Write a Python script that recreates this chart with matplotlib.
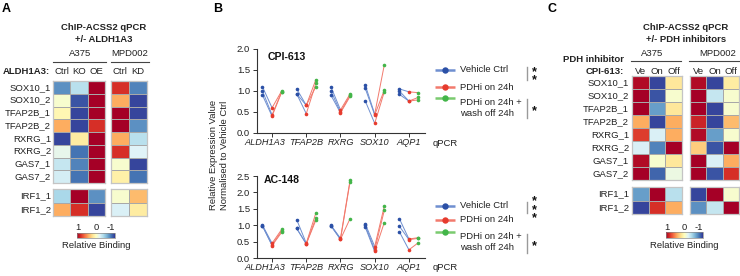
import numpy as np
import matplotlib
matplotlib.use('Agg')
import matplotlib.pyplot as plt
from matplotlib.colors import Normalize
import matplotlib.cm as cm
import matplotlib.transforms as mtransforms

plt.rcParams['font.family'] = ['Liberation Sans', 'DejaVu Sans']

# ---------------- data ----------------
rows_main = ['SOX10_1', 'SOX10_2', 'TFAP2B_1', 'TFAP2B_2', 'RXRG_1', 'RXRG_2', 'GAS7_1', 'GAS7_2']
rows_irf = ['IRF1_1', 'IRF1_2']

a_a375_cols = ['Ctrl', 'KO', 'OE']
a_mpd_cols = ['Ctrl', 'KD']
a_a375_main = [[-0.70, -0.35, 1.00], [-0.05, -0.90, 1.00], [0.05, -0.95, 1.00], [0.40, -0.95, 0.80],
               [-0.95, 0.12, 1.00], [-0.15, -0.80, 1.00], [-0.30, -0.75, 1.00], [-0.25, -0.80, 1.00]]
a_a375_irf = [[-0.40, 1.00, -0.70], [0.40, 0.80, -0.95]]
a_mpd_main = [[0.80, -0.75], [0.40, -0.95], [1.00, -0.95], [1.00, -0.70],
              [0.40, -0.35], [0.80, -0.20], [-0.05, -0.95], [0.10, -0.80]]
a_mpd_irf = [[-0.05, 0.35], [-0.22, 0.12]]

c_cols = ['Ve', 'On', 'Off']
c_a375_main = [[0.95, -0.95, 0.15], [1.00, -0.90, -0.05], [1.00, -0.65, 0.15], [0.40, -0.95, 0.40],
               [0.75, -0.22, 0.40], [-0.22, -0.75, 1.00], [0.95, -0.05, 0.15], [1.00, -0.85, -0.12]]
c_a375_irf = [[-0.65, 1.00, -0.35], [-0.95, 0.80, 0.40]]
c_mpd_main = [[0.95, -0.95, 0.12], [1.00, -0.30, -0.05], [1.00, -0.95, -0.05], [0.85, -0.95, 0.35],
              [0.95, -0.65, -0.05], [0.28, -0.90, 1.00], [1.00, -0.22, 0.40], [1.00, -0.90, 0.80]]
c_mpd_irf = [[-0.95, 1.00, -0.05], [-0.70, -0.30, 1.00]]

genes = ['ALDH1A3', 'TFAP2B', 'RXRG', 'SOX10', 'AQP1']
cpi_vehicle = [[1.10, 1.00, 0.90], [1.05, 0.93, 0.93], [1.10, 1.00, 0.90], [1.15, 1.07, 0.77], [1.05, 1.00, 0.92]]
cpi_on = [[0.60, 0.43, 0.40], [0.66, 0.46, 0.66], [0.55, 0.50, 0.48], [0.45, 0.43, 0.23], [0.98, 0.76, 0.76]]
cpi_off = [[1.00, 0.98, 0.97], [1.27, 1.18, 1.10], [0.93, 0.90, 0.87], [1.62, 1.02, 0.98], [0.96, 0.85, 0.79]]
ac_vehicle = [[1.00, 0.98, 0.97], [1.17, 0.90, 0.90], [1.00, 0.99, 0.98], [1.05, 1.00, 0.95], [1.20, 0.97, 0.80]]
ac_on = [[0.45, 0.40, 0.38], [0.45, 0.43, 0.43], [0.60, 0.57, 0.57], [0.35, 0.25, 0.20], [0.58, 0.56, 0.25]]
ac_off = [[0.87, 0.82, 0.78], [1.37, 1.22, 1.15], [2.37, 2.33, 1.20], [1.58, 1.45, 1.08], [0.62, 0.60, 0.47]]

legend_labels = ['Vehicle Ctrl', 'PDHi on 24h', 'PDHi on 24h +\nwash off 24h']

# ---------------- styling ----------------
W, H = 740, 276
fig = plt.figure(figsize=(W / 100, H / 100), dpi=100)
FS = 6.8
TXT = '#222222'
BLUE, RED, GREEN = '#2B50A6', '#E63B2E', '#43B549'
BLUE_L, RED_L, GREEN_L = '#6F8FD0', '#F27A6D', '#7ACB6F'
cmap = plt.get_cmap('RdYlBu_r')
norm = Normalize(-1, 1)

ov = fig.add_axes([0, 0, 1, 1])
ov.set_xlim(0, W)
ov.set_ylim(H, 0)
ov.axis('off')


def px_axes(x0, y0, x1, y1):
    return fig.add_axes([x0 / W, 1 - y1 / H, (x1 - x0) / W, (y1 - y0) / H])


def heat(x0, y0, x1, y1, data):
    ax = px_axes(x0, y0, x1, y1)
    arr = np.array(data)
    ax.pcolormesh(arr, cmap=cmap, norm=norm, edgecolors='#a8a8a8', linewidth=0.4)
    ax.set_xlim(0, arr.shape[1])
    ax.set_ylim(arr.shape[0], 0)
    ax.set_xticks([])
    ax.set_yticks([])
    for s in ax.spines.values():
        s.set_color('#c4c4c4')
        s.set_linewidth(0.9)
    return ax


def row_labels(xr, y0, y1, labels):
    n = len(labels)
    for i, lab in enumerate(labels):
        ov.text(xr, y0 + (i + 0.5) * (y1 - y0) / n, lab, ha='right', va='center', fontsize=FS, color=TXT)


def col_labels(x0, x1, y, labels):
    n = len(labels)
    for i, lab in enumerate(labels):
        ov.text(x0 + (i + 0.5) * (x1 - x0) / n, y, lab, ha='center', va='center', fontsize=FS, color=TXT)


def cbar(x0, y0, x1, y1, cx):
    cax = px_axes(x0, y0, x1, y1)
    cb = fig.colorbar(cm.ScalarMappable(norm=norm, cmap=cmap), cax=cax, orientation='horizontal')
    cax.invert_xaxis()
    cb.set_ticks([])
    cb.outline.set_linewidth(0.5)
    cb.outline.set_edgecolor('#888888')
    ov.text(x0 + 1, y0 - 5, '1', ha='center', va='center', fontsize=FS, color=TXT)
    ov.text((x0 + x1) / 2, y0 - 5, '0', ha='center', va='center', fontsize=FS, color=TXT)
    ov.text(x1 - 4, y0 - 5, '-1', ha='center', va='center', fontsize=FS, color=TXT)
    ov.text(cx, y1 + 8, 'Relative Binding', ha='center', va='center', fontsize=FS, color=TXT)


# ---------------- panel A ----------------
ov.text(2, 9, 'A', fontsize=9, fontweight='bold', va='center', ha='left')
ov.text(104, 28, 'ChIP-ACSS2 qPCR', ha='center', va='center', fontsize=FS, fontweight='bold', color=TXT)
ov.text(104, 40, '+/- ALDH1A3', ha='center', va='center', fontsize=FS, fontweight='bold', color=TXT)
ov.text(80, 54, 'A375', ha='center', va='center', fontsize=FS, color=TXT)
ov.plot([53, 106], [62, 62], color='#444444', lw=0.8)
ov.text(130, 54, 'MPD002', ha='center', va='center', fontsize=FS, color=TXT)
ov.plot([111, 149], [62, 62], color='#444444', lw=0.8)
ov.text(50, 72, 'ALDH1A3:', ha='right', va='center', fontsize=FS, fontweight='bold', color=TXT)
col_labels(53, 105, 72, a_a375_cols)
col_labels(111, 147, 72, a_mpd_cols)
heat(53, 81, 105, 183, a_a375_main)
heat(111, 81, 147, 183, a_mpd_main)
heat(53, 189, 105, 216, a_a375_irf)
heat(111, 189, 147, 216, a_mpd_irf)
row_labels(51, 81, 183, rows_main)
row_labels(51, 189, 216, rows_irf)
cbar(77, 233, 115, 238, 96)

# ---------------- panel C ----------------
ov.text(547, 9, 'C', fontsize=9, fontweight='bold', va='center', ha='left')
ov.text(686, 28, 'ChIP-ACSS2 qPCR', ha='center', va='center', fontsize=FS, fontweight='bold', color=TXT)
ov.text(686, 40, '+/- PDH inhibitors', ha='center', va='center', fontsize=FS, fontweight='bold', color=TXT)
ov.text(652, 53, 'A375', ha='center', va='center', fontsize=FS, color=TXT)
ov.plot([631, 681], [61, 61], color='#444444', lw=0.8)
ov.text(718, 53, 'MPD002', ha='center', va='center', fontsize=FS, color=TXT)
ov.plot([689, 740], [61, 61], color='#444444', lw=0.8)
ov.text(624, 60, 'PDH inhibitor', ha='right', va='center', fontsize=FS, fontweight='bold', color=TXT)
ov.text(624, 72, 'CPI-613:', ha='right', va='center', fontsize=FS, fontweight='bold', color=TXT)
col_labels(632, 682, 71, c_cols)
col_labels(690, 739, 71, c_cols)
heat(632, 76, 682, 180, c_a375_main)
heat(690, 76, 739, 180, c_mpd_main)
heat(632, 187, 682, 214, c_a375_irf)
heat(690, 187, 739, 214, c_mpd_irf)
row_labels(629, 76, 180, rows_main)
row_labels(629, 187, 214, rows_irf)
cbar(666, 232, 703, 238, 684)

# ---------------- panel B ----------------
ov.text(213, 9, 'B', fontsize=9, fontweight='bold', va='center', ha='left')
ov.text(219, 155, 'Relative Expression Value\nNormalised to Vehicle Ctrl', rotation=90,
        ha='center', va='center', fontsize=FS, color=TXT, multialignment='center', linespacing=1.25)

D = 0.28
LABEL_SHIFT = [-0.2, 0.0, 0.0, 0.0, 0.0]


def expr_panel(y0, y1, ymax, title, tx, ty, veh, on, off):
    ax = px_axes(257, y0, 425, y1)
    x = np.arange(len(genes))
    for i in range(len(genes)):
        for r in range(len(veh[i])):
            ax.plot([x[i] - D, x[i]], [veh[i][r], on[i][r]], color=BLUE_L, lw=0.7, zorder=1)
            ax.plot([x[i], x[i] + D], [on[i][r], off[i][r]], color=RED_L, lw=0.7, zorder=1)
        ax.plot([x[i] - D] * len(veh[i]), veh[i], 'o', color=BLUE, ms=2.6, mew=0, zorder=3)
        ax.plot([x[i]] * len(on[i]), on[i], 'o', color=RED, ms=2.6, mew=0, zorder=3)
        ax.plot([x[i] + D] * len(off[i]), off[i], 'o', color=GREEN, ms=2.6, mew=0, zorder=3)
    ax.set_xlim(-0.44, 4.47)
    ax.set_ylim(0, ymax)
    ticks = np.arange(0, ymax + 0.01, 0.5)
    ax.set_yticks(ticks)
    ax.set_yticklabels(['%.1f' % t for t in ticks], fontsize=FS)
    ax.set_xticks(x)
    ax.set_xticklabels([''] * len(genes))
    trans = mtransforms.blended_transform_factory(ax.transData, ax.transAxes)
    hpx = y1 - y0
    for i, g in enumerate(genes):
        ax.text(x[i] + LABEL_SHIFT[i], -10.0 / hpx, g, transform=trans, ha='center', va='center',
                fontsize=6.6, fontstyle='italic', color=TXT, clip_on=False)
    for s in ['top', 'right']:
        ax.spines[s].set_visible(False)
    for s in ['left', 'bottom']:
        ax.spines[s].set_linewidth(0.8)
        ax.spines[s].set_color('#333333')
    ax.tick_params(axis='both', length=3, width=0.7, color='#333333', labelcolor=TXT, pad=2)
    ax.patch.set_alpha(0)
    ov.text(tx, ty, title, ha='left', va='center', fontsize=7.6, fontweight='bold', color='#111111')
    return ax


expr_panel(49, 133, 2.0, 'CPI-613', 268, 57, cpi_vehicle, cpi_on, cpi_off)
expr_panel(176, 258, 2.5, 'AC-148', 264, 180, ac_vehicle, ac_on, ac_off)
ov.text(433, 143, 'qPCR', ha='left', va='center', fontsize=FS, color=TXT)
ov.text(433, 268, 'qPCR', ha='left', va='center', fontsize=FS, color=TXT)


def legend(ys, sig):
    cols = [(BLUE, BLUE_L), (RED, RED_L), (GREEN, GREEN_L)]
    for (c, cl), lab, y in zip(cols, legend_labels, ys):
        ov.plot([435, 455], [y, y], color=cl, lw=1.8, solid_capstyle='butt')
        ov.plot([445], [y], 'o', color=c, ms=4.6, mew=0)
        ov.text(460, y, lab, ha='left', va='top' if '\n' in lab else 'center',
                fontsize=FS, color=TXT, linespacing=1.3)
    for (yb0, yb1, nstar) in sig:
        ov.plot([527, 527], [yb0, yb1], color='#9a9a9a', lw=1.0)
        ov.text(534, (yb0 + yb1) / 2 + 2.5, '\n'.join(['*'] * nstar), ha='center', va='center',
                fontsize=9, fontweight='bold', color='#111111', linespacing=0.62)


legend([70, 87, 98], [(67, 80, 2), (99, 118, 1)])
legend([206, 220, 232], [(202, 213, 3), (234, 253, 1)])

fig.savefig('out.png', dpi=100)
